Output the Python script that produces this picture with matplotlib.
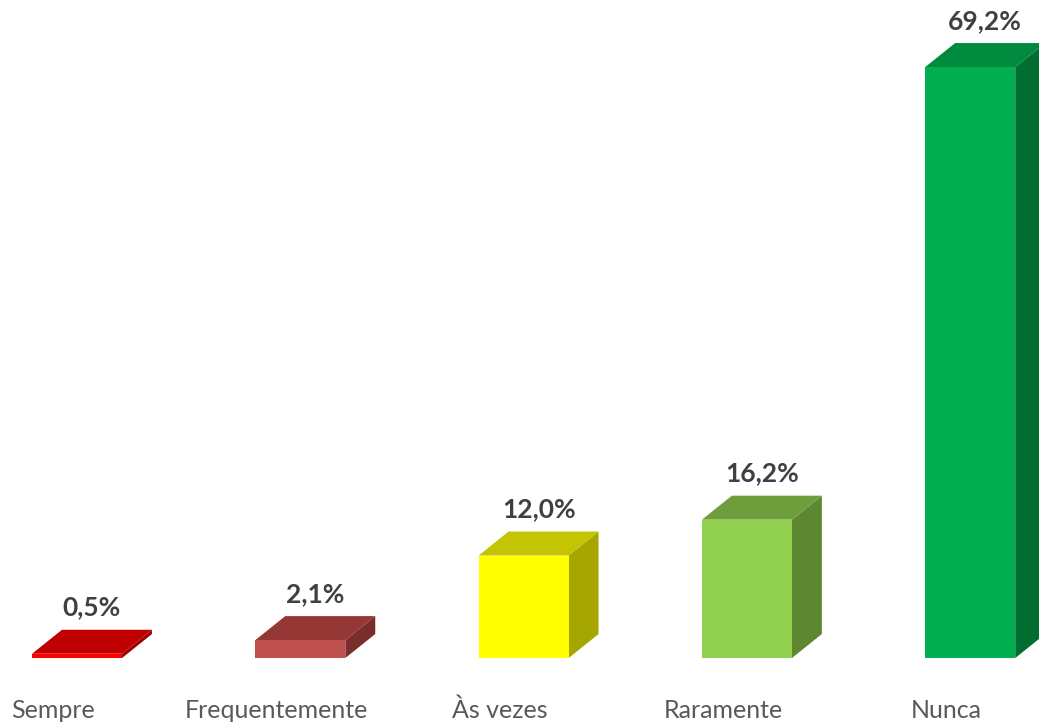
import matplotlib
matplotlib.use('Agg')
import matplotlib.pyplot as plt
from matplotlib.patches import Polygon

categories = ['Sempre', 'Frequentemente', 'Às vezes', 'Raramente', 'Nunca']
values = [0.5, 2.1, 12.0, 16.2, 69.2]
front_colors = ['#FF0000', '#C0504D', '#FFFF00', '#92D050', '#00B050']
top_colors = ['#C00000', '#953735', '#C4C400', '#6E9E3C', '#008A3E']
side_colors = ['#A00000', '#7A2E2C', '#A6A600', '#5E8732', '#006E30']

plt.rcParams['font.family'] = ['Lato', 'DejaVu Sans']

fig = plt.figure(figsize=(10.39, 7.22), dpi=100)
ax = fig.add_axes([0, 0, 1, 1])
ax.set_xlim(-0.345, 4.308)
ax.set_ylim(-7.49, 77.05)
ax.axis('off')

width = 0.403
dx = 0.134   # depth offset, x
dy = 2.81    # depth offset, y

for i, (v, fc, tc, sc) in enumerate(zip(values, front_colors, top_colors, side_colors)):
    x0 = i - width / 2
    x1 = i + width / 2
    # side face
    ax.add_patch(Polygon([(x1, 0), (x1 + dx, dy), (x1 + dx, v + dy), (x1, v)],
                         closed=True, facecolor=sc, edgecolor='none'))
    # top face
    ax.add_patch(Polygon([(x0, v), (x1, v), (x1 + dx, v + dy), (x0 + dx, v + dy)],
                         closed=True, facecolor=tc, edgecolor='none'))
    # front face
    ax.add_patch(Polygon([(x0, 0), (x1, 0), (x1, v), (x0, v)],
                         closed=True, facecolor=fc, edgecolor='none'))
    ax.text(i + dx / 2, v + dy + 1.2, f'{v:.1f}%'.replace('.', ','),
            ha='center', va='bottom', fontsize=19, fontweight='bold', color='#404040')
    ax.text(i - 0.107, -6.1, categories[i], ha='center', va='center',
            fontsize=18, color='#595959')

fig.savefig('out.png', dpi=100)
